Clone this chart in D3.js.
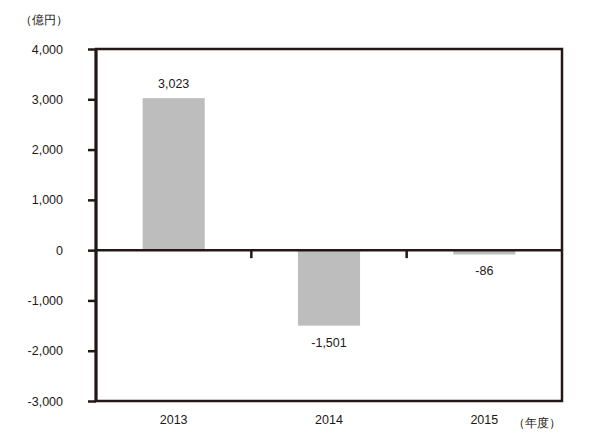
<!DOCTYPE html>
<html><head><meta charset="utf-8">
<script src="https://cdn.jsdelivr.net/npm/d3@7"></script>
<style>body{margin:0;background:#fff}svg{display:block}text{font-family:"Liberation Sans",Arial,sans-serif;fill:#231815}</style>
</head><body>
<script>
const categories = ["2013","2014","2015"];
const values = [3023,-1501,-86];
const valueLabels = ["3,023","-1,501","-86"];
const yTicks = [4000,3000,2000,1000,0,-1000,-2000,-3000];
const yTickLabels = ["4,000","3,000","2,000","1,000","0","-1,000","-2,000","-3,000"];
const yUnit = "（億円）";
const xUnit = "（年度）";

const W=600,H=433;
const m={left:96,right:38,top:49,bottom:32};
const svg=d3.select("body").append("svg").attr("width",W).attr("height",H);
const x=d3.scaleBand().domain(categories).range([m.left,W-m.right]).paddingInner(0.6).paddingOuter(0.3);
const y=d3.scaleLinear().domain([-3000,4000]).range([H-m.bottom,m.top]);
const ink="#231815";
const fs=12.5;

// bars
svg.selectAll("rect.bar").data(values).join("rect").attr("class","bar")
  .attr("x",(d,i)=>x(categories[i])).attr("width",x.bandwidth())
  .attr("y",d=>y(Math.max(0,d))).attr("height",d=>Math.abs(y(d)-y(0)))
  .attr("fill","#bcbdbc");

// frame
svg.append("rect").attr("x",m.left).attr("y",m.top).attr("width",W-m.right-m.left).attr("height",H-m.bottom-m.top)
  .attr("fill","none").attr("stroke",ink).attr("stroke-width",2.5);
svg.append("line").attr("x1",m.left).attr("x2",m.left).attr("y1",m.top).attr("y2",H-m.bottom).attr("stroke",ink).attr("stroke-width",3);

// y axis
const yAxis=d3.axisLeft(y).tickValues(yTicks).tickFormat((d,i)=>yTickLabels[i]).tickSize(8).tickPadding(25);
const gy=svg.append("g").attr("transform",`translate(${m.left},0)`).call(yAxis);
gy.select(".domain").remove();
gy.selectAll("line").attr("stroke",ink).attr("stroke-width",2.5);
gy.selectAll("text").attr("font-size",fs).attr("fill",ink).attr("font-family","Liberation Sans, Arial, sans-serif");

// zero line
svg.append("line").attr("x1",m.left).attr("x2",W-m.right).attr("y1",y(0)).attr("y2",y(0)).attr("stroke",ink).attr("stroke-width",2.5);
// category separators on zero line
const step=x.step();
const seps=categories.slice(1).map(c=>x(c)-x.paddingInner()*step/2);
svg.selectAll("line.sep").data(seps).join("line").attr("class","sep")
  .attr("x1",d=>d).attr("x2",d=>d).attr("y1",y(0)).attr("y2",y(0)+8).attr("stroke",ink).attr("stroke-width",2.5);

// x labels
svg.selectAll("text.xl").data(categories).join("text").attr("class","xl")
  .attr("x",d=>x(d)+x.bandwidth()/2).attr("y",H-9).attr("text-anchor","middle").attr("font-size",fs).text(d=>d);

// value labels
svg.selectAll("text.vl").data(values).join("text").attr("class","vl")
  .attr("x",(d,i)=>x(categories[i])+x.bandwidth()/2)
  .attr("y",d=>d>=0?y(d)-10:y(d)+21).attr("text-anchor","middle").attr("font-size",fs)
  .text((d,i)=>valueLabels[i]);

// units
svg.append("text").attr("x",20).attr("y",24).attr("font-size",12).attr("font-family","Noto Sans CJK JP").text(yUnit);
svg.append("text").attr("x",513).attr("y",427).attr("font-size",12).attr("font-family","Noto Sans CJK JP").text(xUnit);
</script>
</body></html>
